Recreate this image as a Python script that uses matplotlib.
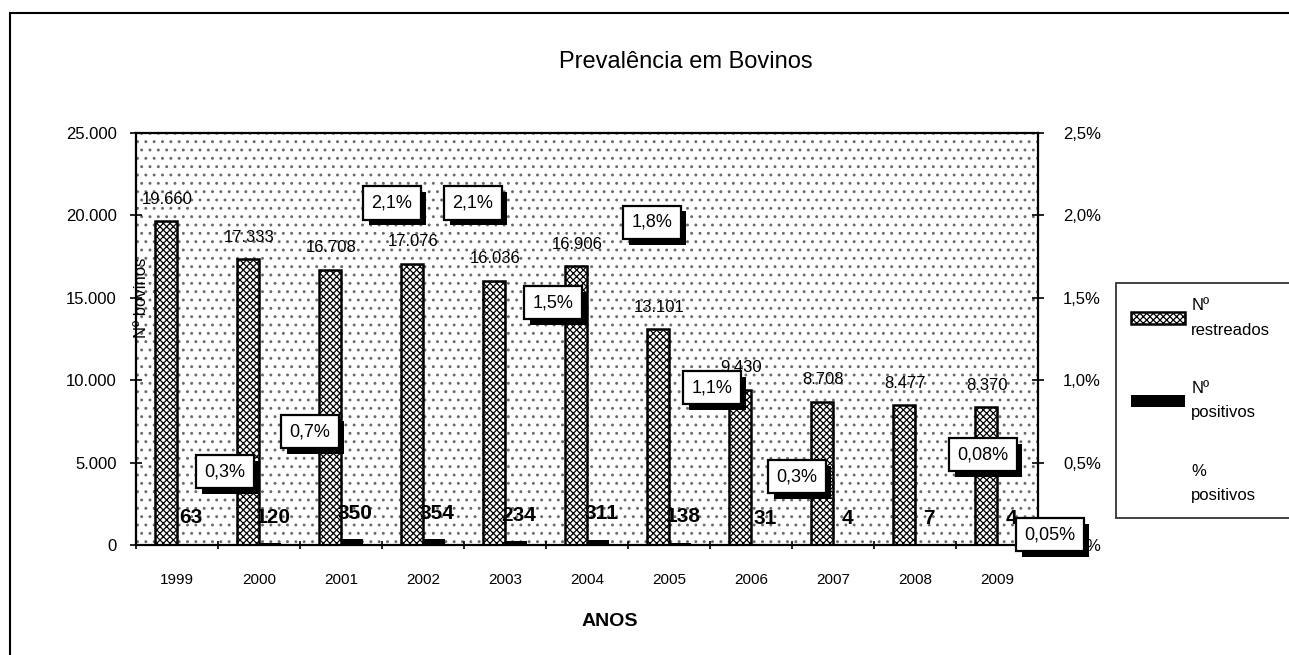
import matplotlib
matplotlib.use("Agg")
import matplotlib.pyplot as plt
import matplotlib.patheffects as pe
from matplotlib.patches import Rectangle
from matplotlib.lines import Line2D
import numpy as np

# dados
anos = ["1999", "2000", "2001", "2002", "2003", "2004",
        "2005", "2006", "2007", "2008", "2009"]
restreados = [19660, 17333, 16708, 17076, 16036, 16906,
              13101, 9430, 8708, 8477, 8370]
positivos = [63, 120, 350, 354, 234, 311, 138, 31, 4, 7, 4]
pct_positivos = [0.3, 0.7, 2.1, 2.1, 1.5, 1.8, 1.1, 0.3, 0.05, 0.08, 0.05]
pct_rotulos = ["0,3%", "0,7%", "2,1%", "2,1%", "1,5%", "1,8%",
               "1,1%", "0,3%", "", "0,08%", "0,05%"]

# deslocamento (pixels) das caixas de % em relação ao ponto
pct_dx = [48, 51, 51, 50, 48, 65, 43, 46, 0, 68, 53]
pct_dy = [24, -2, -4, -4, -5, 26, -24, 19, 0, 77, 2]

plt.rcParams["font.family"] = ["Liberation Sans", "DejaVu Sans"]
plt.rcParams["hatch.linewidth"] = 0.9


def fmt_milhar(v):
    return f"{v:,}".replace(",", ".")


fig = plt.figure(figsize=(12.89, 6.55), dpi=100)
ax = fig.add_axes([0.1055, 0.1679, 0.6998, 0.629])
ax2 = ax.twinx()

x = np.arange(len(anos))
w = 0.27

# fundo pontilhado da área de plotagem
ax.add_patch(Rectangle((0, 0), 1, 1, transform=ax.transAxes, facecolor="white",
                       edgecolor="#6a6a6a", hatch="..", linewidth=0, zorder=0))

b1 = ax.bar(x - w / 2, restreados, width=w, facecolor="white", edgecolor="black",
            hatch="xxxxx", linewidth=1.8, label="Nº\nrestreados", zorder=2)
b2 = ax.bar(x + w / 2, positivos, width=w, color="black", label="Nº\npositivos", zorder=2)

ax.set_xlim(-0.5, len(anos) - 0.5)
ax.set_ylim(0, 25000)
ax.set_yticks(np.arange(0, 25001, 5000))
ax.set_yticklabels([fmt_milhar(v) for v in range(0, 25001, 5000)], fontsize=12)
ax.set_xticks(x)
ax.set_xticklabels(anos, fontsize=11)
ax.set_xticks(np.arange(-0.5, len(anos) + 0.5, 1), minor=True)
ax.tick_params(axis="x", which="major", length=0, pad=20)
ax.tick_params(axis="x", which="minor", length=6, direction="inout", width=1.2)
ax.tick_params(axis="y", length=8, direction="inout", width=1.2, pad=10)

ax.set_xlabel("ANOS", fontsize=14, fontweight="bold")
ax.xaxis.set_label_coords(0.525, -0.165)
ax.set_ylabel("Nº bovinos", fontsize=12)
ax.yaxis.set_label_coords(0.014, 0.6)

for s in ["left", "bottom", "right", "top"]:
    ax.spines[s].set_linewidth(1.6)

# rótulos das barras
for xi, v in zip(x, restreados):
    ax.annotate(fmt_milhar(v), (xi - w / 2, v), xytext=(1, 22), textcoords="offset pixels",
                ha="center", va="center", fontsize=12, zorder=5)
for xi, v in zip(x, positivos):
    ax.annotate(str(v), (xi + w / 2, v), xytext=(3, 26), textcoords="offset pixels",
                ha="center", va="center", fontsize=15, fontweight="bold", zorder=5)

# eixo secundário (%)
ax2.set_ylim(0, 2.5)
ax2.set_yticks(np.arange(0, 2.51, 0.5))
ax2.set_yticklabels([f"{v:.1f}%".replace(".", ",") for v in np.arange(0, 2.51, 0.5)],
                    fontsize=12)
ax2.tick_params(axis="y", length=8, direction="inout", width=1.2, pad=14)
for s in ax2.spines.values():
    s.set_visible(False)

ax2.plot(x, pct_positivos, linestyle="none", label="%\npositivos")

for xi, v, txt, dx, dy in zip(x, pct_positivos, pct_rotulos, pct_dx, pct_dy):
    if not txt:
        continue
    t = ax2.annotate(txt, (xi, v), xytext=(dx, dy), textcoords="offset pixels",
                     ha="center", va="center", fontsize=13, zorder=6,
                     bbox=dict(boxstyle="square,pad=0.45", facecolor="white",
                               edgecolor="black", linewidth=1.6))
    t.get_bbox_patch().set_path_effects([
        pe.SimplePatchShadow(offset=(4, -4), shadow_rgbFace="black", alpha=1.0),
        pe.Normal()])

fig.text(0.532, 0.905, "Prevalência em Bovinos", ha="center", va="center", fontsize=17)

handles = [b1, b2, Line2D([], [], linestyle="none")]
leg = fig.legend(handles, ["Nº\nrestreados", "Nº\npositivos", "%\npositivos"],
                 loc="upper left", bbox_to_anchor=(0.866, 0.468, 0.2, 0.1), mode="expand",
                 borderaxespad=0, fontsize=12, frameon=True, fancybox=False,
                 edgecolor="black", handlelength=3.2, handleheight=0.7,
                 labelspacing=2.6, borderpad=0.9, handletextpad=0.4)
leg.get_frame().set_linewidth(1.3)
for t in leg.get_texts():
    t.set_linespacing(1.8)

# moldura externa
fig.add_artist(Rectangle((0.008, -0.05), 1.5, 1.03, transform=fig.transFigure,
                         fill=False, edgecolor="black", linewidth=1.5))

fig.savefig("out.png", dpi=100)
